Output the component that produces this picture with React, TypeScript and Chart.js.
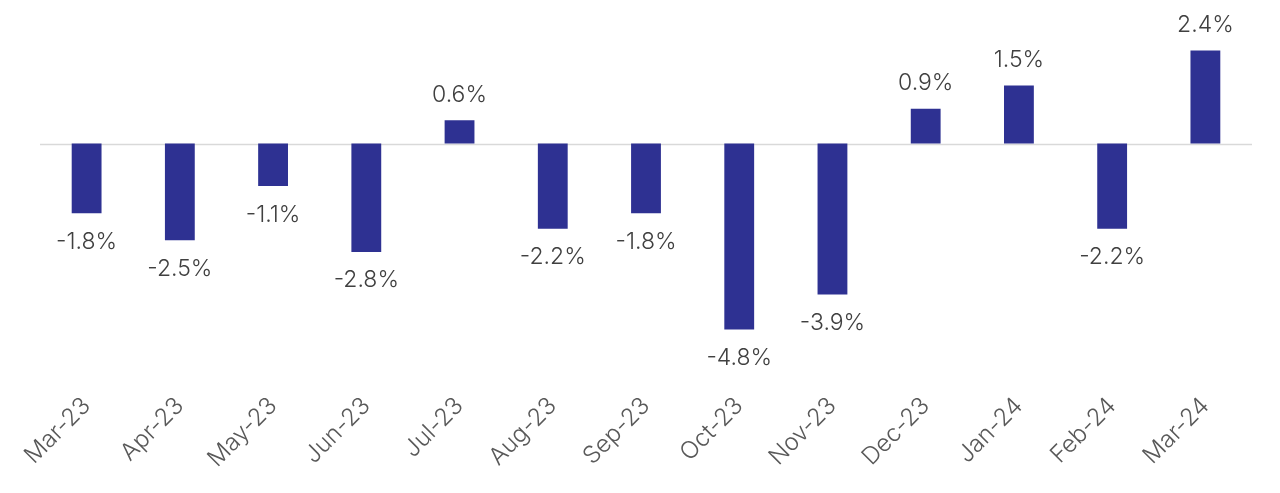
import React, { useEffect, useRef } from "react";
import { Chart, registerables } from "chart.js";

Chart.register(...registerables);

const categories = [
  "Mar-23", "Apr-23", "May-23", "Jun-23", "Jul-23", "Aug-23", "Sep-23",
  "Oct-23", "Nov-23", "Dec-23", "Jan-24", "Feb-24", "Mar-24",
];
const values = [-1.8, -2.5, -1.1, -2.8, 0.6, -2.2, -1.8, -4.8, -3.9, 0.9, 1.5, -2.2, 2.4];

const FONT = "Inter, 'Open Sans', sans-serif";

const zeroLinePlugin = {
  id: "zeroLine",
  beforeDatasetsDraw(chart: any) {
    const { ctx, chartArea, scales } = chart;
    const y = Math.round(scales.y.getPixelForValue(0)) + 0.5;
    ctx.save();
    ctx.strokeStyle = "#d9d9d9";
    ctx.lineWidth = 1.5;
    ctx.beginPath();
    ctx.moveTo(chartArea.left, y);
    ctx.lineTo(chartArea.right, y);
    ctx.stroke();
    ctx.restore();
  },
};

const labelPlugin = {
  id: "barLabels",
  afterDatasetsDraw(chart: any) {
    const { ctx } = chart;
    const meta = chart.getDatasetMeta(0);
    ctx.save();
    ctx.font = `300 23px ${FONT}`;
    ctx.fillStyle = "#404040";
    ctx.textAlign = "center";
    meta.data.forEach((bar: any, i: number) => {
      const v = values[i];
      const text = `${v.toFixed(1)}%`;
      if (v >= 0) {
        ctx.textBaseline = "bottom";
        ctx.fillText(text, bar.x, bar.y - 14);
      } else {
        ctx.textBaseline = "top";
        ctx.fillText(text, bar.x, bar.y + 17);
      }
    });
    ctx.restore();
  },
};

export default function App() {
  const ref = useRef<HTMLCanvasElement>(null);
  useEffect(() => {
    document.body.style.margin = "0";
    const chart = new Chart(ref.current!, {
      type: "bar",
      data: {
        labels: categories,
        datasets: [
          {
            data: values,
            backgroundColor: "#2e3192",
            barPercentage: 0.32,
            categoryPercentage: 1,
          },
        ],
      },
      options: {
        animation: false,
        responsive: false,
        layout: { padding: { left: 40, right: 28, top: 8, bottom: 16 } },
        plugins: { legend: { display: false }, tooltip: { enabled: false } },
        scales: {
          x: {
            grid: { display: false },
            border: { display: false },
            ticks: {
              color: "#595959",
              font: { size: 24, family: FONT, weight: 300 },
              maxRotation: 45,
              minRotation: 45,
              padding: 4,
            },
          },
          y: {
            display: false,
            min: -6.1,
            max: 3.5,
          },
        },
      },
      plugins: [zeroLinePlugin, labelPlugin],
    });
    return () => chart.destroy();
  }, []);
  return (
    <div style={{ width: 1280, height: 493 }}>
      <canvas ref={ref} width={1280} height={493} />
    </div>
  );
}
